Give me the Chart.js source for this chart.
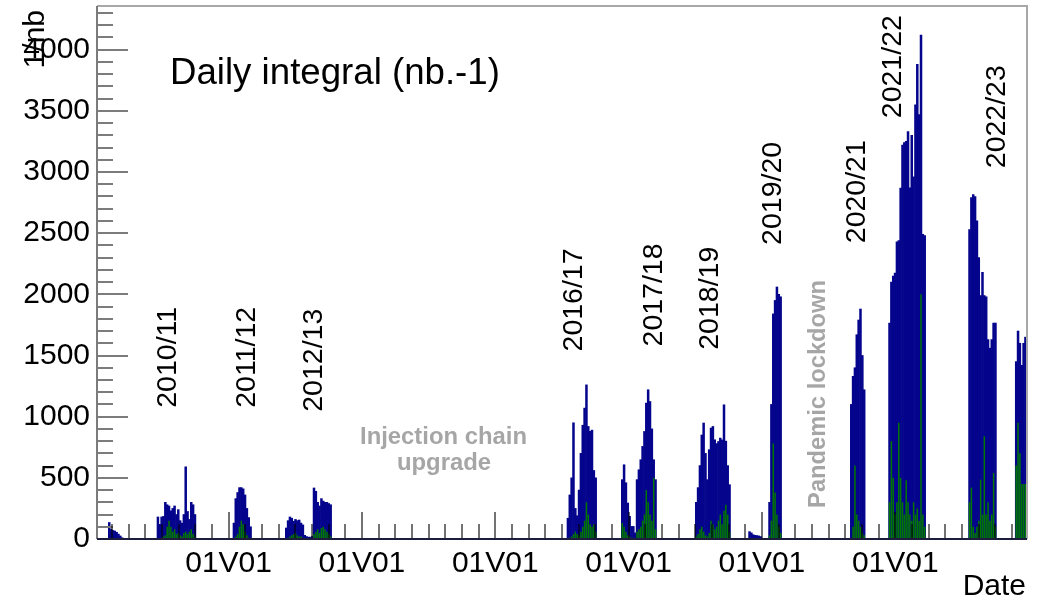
<!DOCTYPE html>
<html><head><meta charset="utf-8">
<script src="https://cdn.jsdelivr.net/npm/chart.js@4.4.1/dist/chart.umd.min.js"></script>
<style>html,body{margin:0;padding:0;background:#fff;overflow:hidden}canvas{display:block}</style>
</head><body>
<canvas id="c" width="1051" height="604"></canvas>
<script>
// ---------------- DATA ----------------
const binYears = 1 / 36;   // ~10-day bins (years)

// season start (left edge of first bin, decimal year)
const seasonStart = [2010.1955, 2010.926, 2012.066, 2012.8505, 2017.076, 2017.8905, 2019.0005, 2019.80, 2020.10, 2021.3255, 2021.90, 2023.10, 2023.80];

// daily integral, total (blue)
const total2009_10 = [135, 80, 70, 65, 55, 40, 25, 10];
const total2010_11 = [180, 120, 180, 185, 300, 280, 270, 230, 250, 270, 200, 240, 150, 130, 200, 590, 225, 160, 300, 280, 200];
const total2011_12 = [130, 330, 380, 420, 420, 410, 360, 250, 175, 100];
const total2012_13 = [90, 150, 180, 170, 145, 160, 150, 155, 130, 115, 30, 20, 15, 15, 20, 417, 390, 300, 270, 330, 310, 300, 300, 290, 280];
const total2016_17 = [170, 360, 500, 950, 250, 190, 400, 700, 930, 1070, 1260, 920, 880, 890, 560, 500];
const total2017_18 = [485, 607, 460, 294, 185, 103, 103, 50, 485, 566, 648, 757, 879, 1111, 1220, 1124, 900, 648, 485];
const total2018_19 = [300, 420, 600, 850, 948, 700, 485, 730, 907, 920, 811, 780, 797, 825, 810, 1097, 800, 600, 444];
const total2019_20a = [60, 50, 35, 30, 28, 25, 20];
const total2019_20b = [300, 1100, 1840, 1950, 2060, 2000, 1980];
const total2020_21 = [1100, 1330, 1400, 1670, 1790, 1880, 1500, 1220];
const total2021_22 = [1765, 2100, 2150, 2173, 2430, 2440, 2868, 3220, 3240, 3250, 3330, 2870, 3300, 2960, 3550, 3880, 3470, 4120, 2490, 2480];
const total2022_23 = [2530, 2790, 2815, 2800, 2600, 2300, 1990, 2180, 1990, 1980, 1630, 1560, 1630, 1765, 1765];
const total2023_24 = [1450, 1700, 1600, 1420, 1600, 1650, 1640];

// daily integral, subset (green)
const sub2009_10 = [0, 0, 0, 0, 0, 0, 0, 0];
const sub2010_11 = [0, 0, 0, 20, 30, 100, 150, 100, 60, 80, 40, 50, 30, 20, 50, 60, 40, 60, 80, 40, 20];
const sub2011_12 = [0, 20, 40, 100, 150, 120, 60, 30, 10, 0];
const sub2012_13 = [0, 10, 20, 30, 40, 50, 30, 20, 20, 10, 0, 0, 0, 0, 0, 40, 60, 80, 50, 90, 100, 80, 60, 40, 20];
const sub2016_17 = [0, 10, 20, 40, 60, 40, 30, 60, 100, 150, 300, 200, 120, 100, 120, 60];
const sub2017_18 = [130, 100, 60, 30, 20, 10, 10, 0, 60, 80, 100, 150, 200, 400, 300, 200, 150, 500, 80];
const sub2018_19 = [20, 40, 80, 100, 60, 30, 20, 50, 150, 120, 80, 100, 150, 200, 120, 230, 280, 200, 60];
const sub2019_20a = [0, 0, 0, 0, 0, 0, 0];
const sub2019_20b = [30, 150, 780, 380, 200, 100, 50];
const sub2020_21 = [0, 100, 600, 200, 150, 100, 50, 30];
const sub2021_22 = [300, 800, 500, 200, 300, 950, 500, 300, 200, 480, 300, 200, 150, 300, 200, 250, 150, 2000, 200, 100];
const sub2022_23 = [300, 420, 100, 50, 100, 150, 485, 200, 840, 200, 300, 150, 200, 540, 100];
const sub2023_24 = [600, 950, 700, 450, 450, 450, 800];

const totalSeasons = [total2009_10, total2010_11, total2011_12, total2012_13, total2016_17, total2017_18, total2018_19, total2019_20a, total2019_20b, total2020_21, total2021_22, total2022_23, total2023_24];
const subSeasons = [sub2009_10, sub2010_11, sub2011_12, sub2012_13, sub2016_17, sub2017_18, sub2018_19, sub2019_20a, sub2019_20b, sub2020_21, sub2021_22, sub2022_23, sub2023_24];

// axis ticks
const xTickYears = [2012, 2014, 2016, 2018, 2020, 2022];
const xTickLabels = ['01V01', '01V01', '01V01', '01V01', '01V01', '01V01'];
const yTickValues = [0, 500, 1000, 1500, 2000, 2500, 3000, 3500, 4000];

// season labels
const seasonLabels = ['2010/11', '2011/12', '2012/13', '2016/17', '2017/18', '2018/19', '2019/20', '2020/21', '2021/22', '2022/23'];
const seasonLabelYear = [2011.088, 2012.276, 2013.286, 2017.186, 2018.386, 2019.226, 2020.163, 2021.43, 2021.97, 2023.523];
const seasonLabelValue = [1073, 1073, 1040, 1533, 1574, 1547, 2404, 2418, 3440, 3031];

// ---------------- BUILD ----------------
const xMin = 2010.026, xMax = 2023.976, yMax = 4357;
function toPoints(list) {
  const pts = [];
  list.forEach((arr, s) => arr.forEach((v, i) => pts.push({ x: seasonStart[s] + (i + 0.5) * binYears, y: v })));
  return pts;
}
const FONT = "'Liberation Sans', Arial, Helvetica, sans-serif";

function fitSize(ctx, text, width, weight) {
  ctx.font = `${weight} 100px ${FONT}`;
  return 100 * width / ctx.measureText(text).width;
}

const decor = {
  id: 'decor',
  afterDatasetsDraw(chart) {
    const { ctx, chartArea: { left, right, top, bottom }, scales: { x, y } } = chart;
    ctx.save();
    ctx.lineWidth = 2;
    ctx.strokeStyle = '#a8a8a8';
    ctx.beginPath();
    ctx.moveTo(left, top); ctx.lineTo(right, top); ctx.lineTo(right, bottom);
    ctx.stroke();
    ctx.strokeStyle = '#7c7c7c';
    ctx.beginPath(); ctx.moveTo(left, top); ctx.lineTo(left, bottom); ctx.stroke();
    for (let v = 0; v <= yMax; v += 100) {
      const py = Math.round(y.getPixelForValue(v));
      const len = v % 500 === 0 ? 31 : 16;
      ctx.beginPath(); ctx.moveTo(left, py); ctx.lineTo(left + len, py); ctx.stroke();
    }
    ctx.strokeStyle = 'rgba(0,0,0,0.55)';
    for (let q = Math.ceil(xMin * 4); q / 4 <= xMax; q++) {
      const v = q / 4;
      const px = Math.round(x.getPixelForValue(v));
      const major = xTickYears.includes(v);
      const len = major ? 27 : 15;
      ctx.beginPath(); ctx.moveTo(px, bottom); ctx.lineTo(px, bottom - len); ctx.stroke();
    }
    ctx.strokeStyle = '#1c1c3c';
    ctx.beginPath(); ctx.moveTo(left, bottom); ctx.lineTo(right, bottom); ctx.stroke();
    ctx.restore();
  },
  afterDraw(chart) {
    const { ctx, scales: { x, y } } = chart;
    ctx.save();
    ctx.fillStyle = '#000';
    ctx.font = `28.5px ${FONT}`;
    ctx.textAlign = 'left';
    ctx.textBaseline = 'middle';
    seasonLabels.forEach((t, i) => {
      ctx.save();
      ctx.translate(x.getPixelForValue(seasonLabelYear[i]), y.getPixelForValue(seasonLabelValue[i]));
      ctx.rotate(-Math.PI / 2);
      ctx.fillText(t, 0, 0);
      ctx.restore();
    });
    const ts = fitSize(ctx, 'Daily integral (nb.-1)', 330, 'normal');
    ctx.font = `${ts}px ${FONT}`;
    ctx.textBaseline = 'alphabetic';
    ctx.fillText('Daily integral (nb.-1)', 170, 84);
    ctx.save();
    ctx.translate(36, 10);
    ctx.rotate(-Math.PI / 2);
    ctx.font = `30px ${FONT}`;
    ctx.textAlign = 'right';
    ctx.textBaseline = 'middle';
    ctx.fillText('1/nb', 0, 0);
    ctx.restore();
    ctx.font = `30px ${FONT}`;
    ctx.textAlign = 'right';
    ctx.textBaseline = 'middle';
    ctx.fillText('Date', 1026, 587);
    ctx.fillStyle = '#a6a6a6';
    ctx.textAlign = 'center';
    let s = fitSize(ctx, 'Injection chain', 167, 'bold');
    ctx.font = `bold ${s}px ${FONT}`;
    ctx.fillText('Injection chain', 443.5, 437);
    ctx.fillText('upgrade', 444, 463);
    ctx.save();
    ctx.translate(818, 394);
    ctx.rotate(-Math.PI / 2);
    s = fitSize(ctx, 'Pandemic lockdown', 228, 'bold');
    ctx.font = `bold ${s}px ${FONT}`;
    ctx.fillText('Pandemic lockdown', 0, 0);
    ctx.restore();
    ctx.restore();
  }
};

new Chart(document.getElementById('c'), {
  type: 'bar',
  data: {
    datasets: [
      { label: 'subset', data: toPoints(subSeasons), backgroundColor: 'rgb(0,120,0)', order: 0, grouped: false, barPercentage: 0.8, categoryPercentage: 1 },
      { label: 'total', data: toPoints(totalSeasons), backgroundColor: 'rgb(4,4,140)', order: 1, grouped: false, barPercentage: 1, categoryPercentage: 1 }
    ]
  },
  options: {
    responsive: false,
    animation: false,
    devicePixelRatio: 1,
    layout: { padding: { top: 6, right: 24, left: 0, bottom: 0 } },
    plugins: { legend: { display: false }, tooltip: { enabled: false } },
    scales: {
      x: {
        type: 'linear', min: xMin, max: xMax, offset: false,
        grid: { display: false, drawTicks: false }, border: { display: false },
        afterBuildTicks: s => { const t = []; for (let q = Math.ceil(xMin * 4); q / 4 <= xMax; q++) t.push({ value: q / 4 }); s.ticks = t; },
        ticks: {
          autoSkip: false, maxRotation: 0, minRotation: 0, padding: 7, color: '#000',
          font: { family: FONT, size: 30 },
          callback: v => { const i = xTickYears.findIndex(yy => Math.abs(yy - v) < 1e-6); return i >= 0 ? xTickLabels[i] : ''; }
        },
        afterFit: s => { s.height = 65; s.paddingLeft = 0; s.paddingRight = 0; s.paddingTop = 0; s.paddingBottom = 0; }
      },
      y: {
        type: 'linear', min: 0, max: yMax,
        grid: { display: false, drawTicks: false }, border: { display: false },
        afterBuildTicks: s => { s.ticks = yTickValues.map(v => ({ value: v })); },
        ticks: { padding: 7, color: '#000', font: { family: FONT, size: 30 }, callback: v => String(v) },
        afterFit: s => { s.width = 97; s.paddingTop = 0; s.paddingBottom = 0; s.paddingLeft = 0; s.paddingRight = 0; }
      }
    }
  },
  plugins: [decor]
});
</script>
</body></html>
